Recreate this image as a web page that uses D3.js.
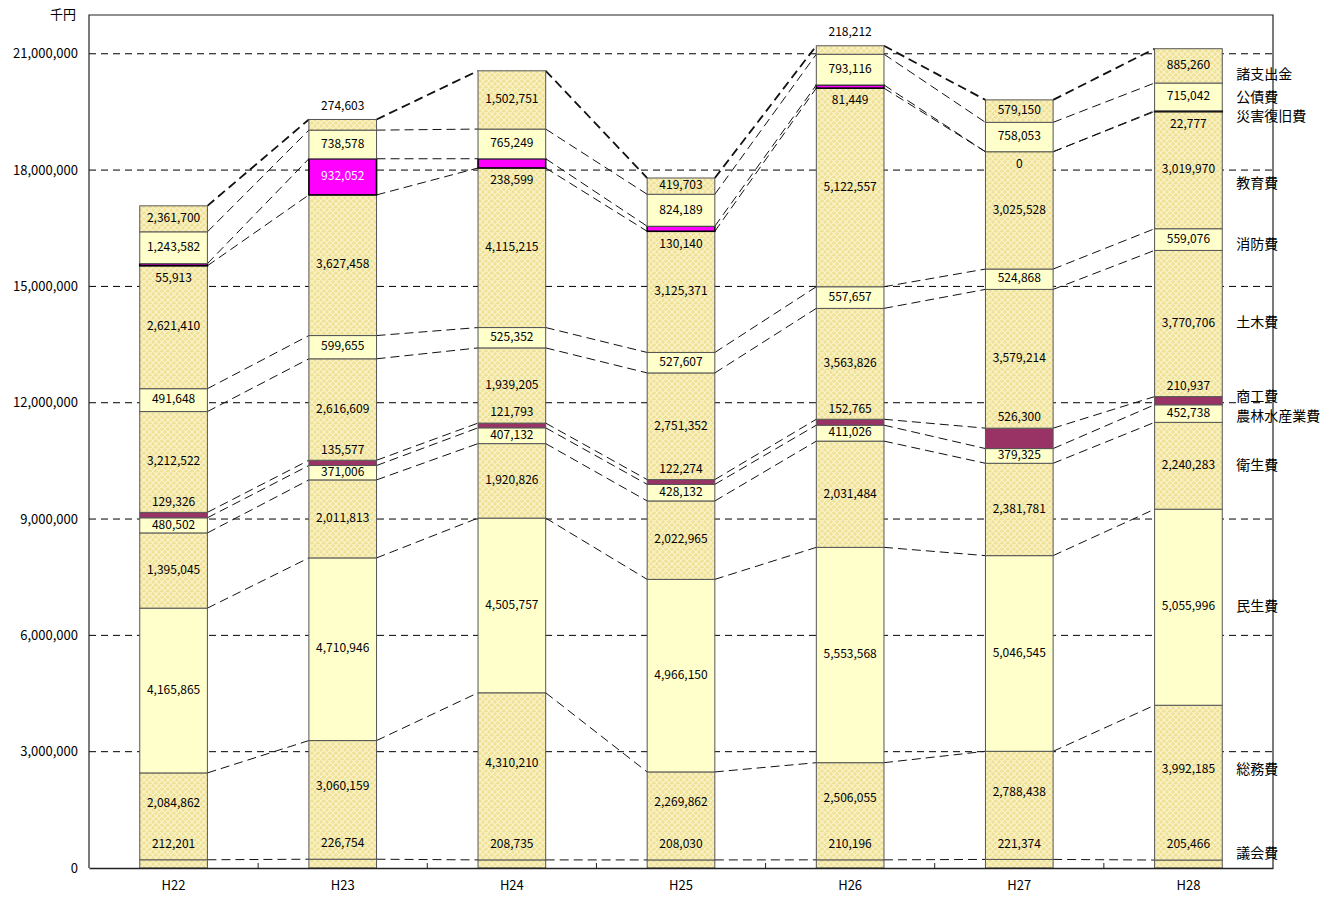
<!DOCTYPE html>
<html>
<head>
<meta charset="utf-8">
<script src="https://cdn.jsdelivr.net/npm/d3@7"></script>
<style>
  body { margin: 0; background: #fff; }
  svg { font-family: "Noto Sans CJK JP", "Noto Sans", sans-serif; }
</style>
</head>
<body>
<svg width="1342" height="898"></svg>
<script>
const years = ["H22", "H23", "H24", "H25", "H26", "H27", "H28"];
const categories = ["議会費", "総務費", "民生費", "衛生費", "農林水産業費", "商工費",
  "土木費", "消防費", "教育費", "災害復旧費", "公債費", "諸支出金"];

// printed values (千円), one array per category, H22..H28
const gikai = [212201, 226754, 208735, 208030, 210196, 221374, 205466];
const somu = [2084862, 3060159, 4310210, 2269862, 2506055, 2788438, 3992185];
const minsei = [4165865, 4710946, 4505757, 4966150, 5553568, 5046545, 5055996];
const eisei = [1395045, 2011813, 1920826, 2022965, 2031484, 2381781, 2240283];
const norin = [480502, 371006, 407132, 428132, 411026, 379325, 452738];
const shoko = [129326, 135577, 121793, 122274, 152765, 526300, 210937];
const doboku = [3212522, 2616609, 1939205, 2751352, 3563826, 3579214, 3770706];
const shobo = [491648, 599655, 525352, 527607, 557657, 524868, 559076];
const kyoiku = [2621410, 3627458, 4115215, 3125371, 5122557, 3025528, 3019970];
const saigai = [55913, 932052, 238599, 130140, 81449, 0, 22777];
const kosai = [1243582, 738578, 765249, 824189, 793116, 758053, 715042];
const shishutsu = [2361700, 274603, 1502751, 419703, 218212, 579150, 885260];

// heights read off the bars where they do not agree with the printed labels
const barsH22 = [212201, 2240000, 4250000, 1940000, 390000, 140000, 2600000, 590000, 3170000, 55913, 820000, 670000];
const barsH26 = [210196, 2506055, 5553568, 2740000, 411026, 152765, 2860000, 557657, 5122557, 81449, 793116, 218212];

const yTicks = [0, 3000000, 6000000, 9000000, 12000000, 15000000, 18000000, 21000000];

const printed = [gikai, somu, minsei, eisei, norin, shoko, doboku, shobo, kyoiku, saigai, kosai, shishutsu];

const svg = d3.select("svg");
const margin = { top: 15, right: 69, bottom: 30, left: 89 };
const width = +svg.attr("width");
const height = +svg.attr("height");
const x0 = margin.left, x1 = width - margin.right;
const yBottom = height - margin.bottom;

const xScale = d3.scaleBand().domain(years).range([x0, x1])
  .paddingInner(0.6).paddingOuter(0.3);
const yScale = d3.scaleLinear().domain([0, 22000000]).range([yBottom, margin.top]);

// pattern for the hatched segments
const defs = svg.append("defs");
const pat = defs.append("pattern").attr("id", "hatch")
  .attr("patternUnits", "userSpaceOnUse").attr("width", 6).attr("height", 6);
pat.append("rect").attr("width", 6).attr("height", 6).attr("fill", "#efe296");
pat.append("path").attr("d", "M0,0L6,6M6,0L0,6M-1,5L1,7M5,-1L7,1")
  .attr("stroke", "#fbf4cc").attr("stroke-width", 1.2);

const fills = {
  "議会費": "url(#hatch)", "総務費": "url(#hatch)", "民生費": "#ffffcc", "衛生費": "url(#hatch)",
  "農林水産業費": "#ffffcc", "商工費": "#993366", "土木費": "url(#hatch)", "消防費": "#ffffcc",
  "教育費": "url(#hatch)", "災害復旧費": "#ff00ff", "公債費": "#ffffcc", "諸支出金": "url(#hatch)"
};

// build stacked rows
const rows = years.map((yr, i) => {
  const bars = yr === "H22" ? barsH22 : yr === "H26" ? barsH26 : printed.map(a => a[i]);
  let acc = 0;
  return categories.map((c, k) => {
    const seg = { year: yr, cat: c, k, label: printed[k][i], y0: acc, y1: acc + bars[k] };
    acc += bars[k];
    return seg;
  });
});

// gridlines
svg.append("g").selectAll("line").data(yTicks.filter(d => d > 0)).join("line")
  .attr("x1", x0).attr("x2", x1)
  .attr("y1", d => yScale(d)).attr("y2", d => yScale(d))
  .attr("stroke", "#000").attr("stroke-width", 1).attr("stroke-dasharray", "7,5");

// series lines between neighbouring bars
const lineG = svg.append("g");
for (let i = 0; i < years.length - 1; i++) {
  const a = rows[i], b = rows[i + 1];
  categories.forEach((c, k) => {
    lineG.append("line")
      .attr("x1", xScale(years[i]) + xScale.bandwidth())
      .attr("x2", xScale(years[i + 1]))
      .attr("y1", yScale(a[k].y1)).attr("y2", yScale(b[k].y1))
      .attr("stroke", "#111")
      .attr("stroke-width", c === "諸支出金" ? 1.8 : 1)
      .attr("stroke-dasharray", "9,5");
  });
}

// bars
const segs = rows.flat();
svg.append("g").selectAll("rect").data(segs).join("rect")
  .attr("x", d => xScale(d.year))
  .attr("width", xScale.bandwidth())
  .attr("y", d => yScale(d.y1))
  .attr("height", d => yScale(d.y0) - yScale(d.y1))
  .attr("fill", d => fills[d.cat])
  .attr("stroke", d => d.cat === "災害復旧費" ? "#000" : "#555")
  .attr("stroke-width", d => d.cat === "災害復旧費" ? 1.6 : 1);

// frame and axes
svg.append("path")
  .attr("d", `M${x0},${yBottom}V${margin.top}H${x1}V${yBottom}`)
  .attr("fill", "none").attr("stroke", "#222").attr("stroke-width", 1.2);

const yAxis = d3.axisLeft(yScale).tickValues(yTicks).tickSize(0).tickPadding(11)
  .tickFormat(d3.format(","));
const yAxisG = svg.append("g").attr("transform", `translate(${x0},0)`).call(yAxis);
yAxisG.select(".domain").remove();
yAxisG.selectAll("text").attr("font-size", 13).attr("fill", "#000")
  .attr("font-family", "'Noto Sans CJK JP', sans-serif");

const xAxis = d3.axisBottom(xScale).tickSize(0).tickPadding(13);
const xAxisG = svg.append("g").attr("transform", `translate(0,${yBottom})`).call(xAxis);
xAxisG.select(".domain").attr("stroke", "#222").attr("stroke-width", 1.5);
xAxisG.selectAll("text").attr("font-size", 13).attr("fill", "#000")
  .attr("font-family", "'Noto Sans CJK JP', sans-serif");
// tick marks between categories
svg.append("g").selectAll("line").data(years.slice(1)).join("line")
  .attr("x1", d => xScale(d) - xScale.step() * xScale.paddingInner() / 2)
  .attr("x2", d => xScale(d) - xScale.step() * xScale.paddingInner() / 2)
  .attr("y1", yBottom).attr("y2", yBottom - 5)
  .attr("stroke", "#222");

svg.append("text").attr("x", 63).attr("y", 15).attr("text-anchor", "middle")
  .attr("dominant-baseline", "middle").attr("font-size", 13).text("千円");

// data labels
const labelY = d => {
  const top = yScale(d.y1), bot = yScale(d.y0), h = bot - top, mid = (top + bot) / 2;
  if (d.cat === "議会費") return top - 15;
  if (d.cat === "商工費") return top - 10;
  if (d.cat === "災害復旧費" && h < 30) return bot + 13;
  if (d.cat === "総務費") return mid - 13;
  if (h < 12) return top - 13;
  return mid;
};
svg.append("g").selectAll("text").data(segs).join("text")
  .attr("x", d => xScale(d.year) + xScale.bandwidth() / 2)
  .attr("y", labelY)
  .attr("text-anchor", "middle").attr("dominant-baseline", "middle")
  .attr("font-size", 12)
  .attr("fill", d => d.cat === "災害復旧費" && d.label > 500000 ? "#fff" : "#000")
  .text(d => d3.format(",")(d.label));

// category names at the right, next to the last bar
const nameNudge = { "議会費": -10, "総務費": -12, "教育費": 14, "消防費": 6, "諸支出金": 9, "公債費": 4, "災害復旧費": 3 };
const last = rows[rows.length - 1];
const names = last.map(d => ({ cat: d.cat, y: yScale((d.y0 + d.y1) / 2) }));
for (let it = 0; it < 50; it++) {
  for (let k = 0; k < names.length - 1; k++) {
    const lo = names[k], hi = names[k + 1];
    const gap = lo.y - hi.y;
    if (gap < 20) {
      const push = (20 - gap) / 2;
      lo.y += push; hi.y -= push;
    }
  }
}
svg.append("g").selectAll("text").data(names).join("text")
  .attr("x", xScale("H28") + xScale.bandwidth() + 14)
  .attr("y", d => d.y + (nameNudge[d.cat] || 0))
  .attr("dominant-baseline", "middle")
  .attr("font-size", 14).attr("fill", "#000")
  .text(d => d.cat);
</script>
</body>
</html>
